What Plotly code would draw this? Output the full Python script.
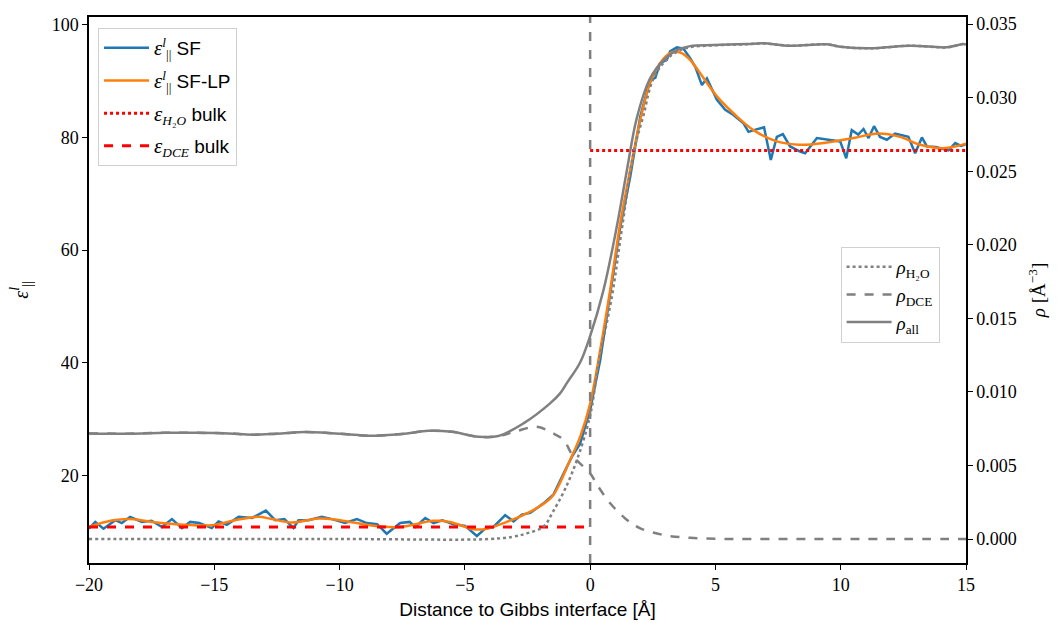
import plotly.graph_objects as go

# ---------------- data ----------------
x_sf = [-20.0, -19.75, -19.42, -18.95, -18.69, -18.36, -17.89, -17.5, -17.09, -16.69, -16.29, -15.96,
        -15.6, -15.1, -14.83, -14.5, -14.03, -13.5, -12.94, -12.57, -12.2, -11.84, -11.64, -11.24,
        -10.71, -10.3, -9.78, -9.31, -8.91, -8.5, -8.12, -7.58, -7.2, -6.98, -6.58, -6.25, -5.9,
        -5.45, -4.99, -4.52, -4.19, -3.86, -3.39, -3.06, -2.73, -2.39, -1.86, -1.46, -1.06, -0.7,
        -0.4, 0.0, 0.4, 0.8, 1.2, 1.6, 2.0, 2.39, 2.6, 2.79, 3.06, 3.19, 3.46, 3.72, 3.99, 4.2,
        4.46, 4.66, 5.06, 5.39, 5.72, 6.12, 6.32, 6.6, 6.94, 7.21, 7.45, 7.69, 7.98, 8.38, 8.58,
        9.05, 9.5, 9.98, 10.22, 10.44, 10.7, 10.91, 11.11, 11.33, 11.57, 11.84, 12.17, 12.45,
        12.7, 12.97, 13.24, 13.44, 13.8, 14.05, 14.3, 14.57, 14.8, 15.0]
eps_sf = [10.5, 11.7, 10.5, 12.0, 11.5, 12.6, 11.7, 11.9, 10.8, 12.2, 10.6, 11.7,
          11.5, 10.6, 11.8, 11.2, 12.6, 12.4, 13.7, 12.0, 12.2, 10.6, 12.0, 12.0,
          12.6, 12.2, 11.5, 12.2, 11.5, 11.3, 9.6, 11.5, 11.7, 10.8, 12.4, 11.5, 12.0,
          11.3, 11.0, 9.2, 10.5, 10.8, 12.9, 11.8, 13.0, 13.3, 15.0, 16.6, 20.3, 23.5,
          25.6, 31.6, 40.4, 52.5, 64.0, 73.0, 83.7, 90.2, 90.6, 93.2, 93.8, 95.3, 96.0, 95.8, 94.1, 92.5,
          89.3, 90.5, 86.7, 84.9, 84.0, 82.5, 81.0, 81.4, 81.8, 76.0, 80.1, 80.6, 78.4, 77.5, 77.2,
          79.9, 79.6, 79.3, 76.3, 81.3, 80.5, 81.5, 79.9, 82.0, 80.1, 79.6, 80.7, 80.4,
          80.1, 77.2, 80.0, 78.4, 78.3, 78.0, 77.7, 79.0, 78.5, 78.8]

x_lp = [-20.0, -19.35, -18.42, -17.49, -16.16, -15.1, -14.17, -13.24, -12.7, -11.9, -10.84, -9.98,
        -8.65, -7.58, -6.25, -5.59, -4.66, -4.12, -3.33, -2.53, -2.0, -1.5, -0.8, -0.4, 0.0, 0.4,
        0.8, 1.2, 1.6, 2.0, 2.39, 2.79, 3.19, 3.59, 3.99, 4.39, 5.06, 5.72, 6.52, 7.45, 8.38,
        9.45, 10.51, 11.5, 12.37, 13.17, 14.1, 15.0]
eps_lp = [10.8, 11.7, 12.2, 11.7, 11.2, 11.1, 12.0, 12.6, 12.2, 11.6, 12.3, 12.0,
          11.0, 10.8, 11.9, 11.7, 10.4, 10.5, 11.7, 13.2, 14.5, 16.3, 22.7, 26.8, 32.7, 42.2,
          52.9, 64.7, 74.2, 83.1, 89.6, 93.2, 95.0, 95.1, 93.8, 91.4, 87.3, 84.3, 81.3, 79.3, 78.7,
          79.1, 79.9, 80.7, 80.1, 78.7, 78.1, 78.9]

x_dce_bulk = [-20.0, 0.0]
eps_dce_bulk = [10.8, 10.8]
x_h2o_bulk = [0.0, 15.0]
eps_h2o_bulk = [77.7, 77.7]
gibbs_x = 0.0

x_all = [-20.0, -18.42, -16.96, -15.76, -14.43, -13.5, -12.5, -11.37, -10.57, -9.7, -8.85, -7.51,
         -6.45, -5.52, -4.46, -3.66, -2.66, -1.6, -1.2, -0.93, -0.4, 0.0, 0.53, 1.06, 1.46, 1.86,
         2.39, 2.93, 3.46, 3.99, 4.92, 6.25, 6.92, 7.98, 9.45, 9.98, 11.17, 12.77, 14.23, 14.9, 15.0]
rho_all = [0.00718, 0.00716, 0.00722, 0.00722, 0.00718, 0.00709, 0.00716, 0.00727, 0.00722, 0.00712,
           0.00702, 0.00714, 0.00736, 0.00729, 0.00695, 0.00700, 0.00786, 0.00922, 0.00990, 0.01060,
           0.01200, 0.01380, 0.01690, 0.02120, 0.02500, 0.02860, 0.03130, 0.03255, 0.03323, 0.03350,
           0.03357, 0.03364, 0.03369, 0.03353, 0.03362, 0.03346, 0.03335, 0.03353, 0.03342, 0.03364, 0.03360]

x_dce = [-20.0, -18.42, -16.96, -15.76, -14.43, -13.5, -12.5, -11.37, -10.57, -9.7, -8.85, -7.51,
         -6.45, -5.52, -4.46, -3.66, -3.0, -2.13, -1.5, -1.06, -0.67, 0.0, 0.33, 0.8, 1.4, 2.0,
         3.0, 4.0, 5.0, 6.0, 8.0, 10.0, 12.0, 15.0]
rho_dce = [0.00718, 0.00716, 0.00722, 0.00722, 0.00718, 0.00709, 0.00716, 0.00727, 0.00722, 0.00712,
           0.00702, 0.00714, 0.00736, 0.00729, 0.00695, 0.00700, 0.00730, 0.00763, 0.00720, 0.00673,
           0.00560, 0.00446, 0.00355, 0.00243, 0.00140, 0.00073, 0.00025, 0.00008, 0.00002, 0.0,
           0.0, 0.0, 0.0, 0.0]

x_h2o = [-20.0, -10.0, -4.0, -3.06, -2.5, -1.86, -1.5, -1.0, -0.5, 0.0, 0.33, 0.87, 1.26, 1.75,
         2.13, 2.5, 3.0, 3.5, 4.0, 4.92, 6.25, 6.92, 7.98, 9.45, 9.98, 11.17, 12.77, 14.23, 14.9, 15.0]
rho_h2o = [0.0, 0.0, 0.0, 0.00016, 0.00040, 0.00084, 0.00180, 0.00340, 0.00550, 0.00840, 0.01190,
           0.01650, 0.02100, 0.02640, 0.02880, 0.03120, 0.03250, 0.03315, 0.03343, 0.03355, 0.03363,
           0.03368, 0.03353, 0.03362, 0.03346, 0.03335, 0.03353, 0.03342, 0.03364, 0.03360]

x_ticks = [-20, -15, -10, -5, 0, 5, 10, 15]
eps_ticks = [20, 40, 60, 80, 100]
rho_ticks = [0.000, 0.005, 0.010, 0.015, 0.020, 0.025, 0.030, 0.035]

# ---------------- figure ----------------
SERIF = "Liberation Serif"
SANS = "Liberation Sans"
BLUE = "#1f77b4"
ORANGE = "#ff7f0e"
GRAY = "#808080"


def eps_lbl(s):
    return (f'<span style="font-family:{SERIF};font-size:21px"><i>ε</i></span>'
            f'<span style="font-family:{SERIF}"><sup><i>l</i></sup><sub>||</sub></span> {s}')


fig = go.Figure()
fig.add_trace(go.Scatter(x=x_sf, y=eps_sf, mode="lines", line=dict(color=BLUE, width=2.5),
                         name=eps_lbl("SF"), legend="legend", legendgroup="a"))
fig.add_trace(go.Scatter(x=x_lp, y=eps_lp, mode="lines", line=dict(color=ORANGE, width=2.5, shape="spline"),
                         name=eps_lbl("SF-LP"), legend="legend", legendgroup="b"))
fig.add_trace(go.Scatter(x=x_h2o_bulk, y=eps_h2o_bulk, mode="lines", line=dict(color="red", width=3, dash="dot"),
                         name=f'<span style="font-family:{SERIF}"><span style="font-size:21px"><i>ε</i></span><sub><i>H</i>₂<i>O</i></sub></span> bulk',
                         legend="legend", legendgroup="c"))
fig.add_trace(go.Scatter(x=x_dce_bulk, y=eps_dce_bulk, mode="lines", line=dict(color="red", width=3, dash="dash"),
                         name=f'<span style="font-family:{SERIF}"><span style="font-size:21px"><i>ε</i></span><sub><i>DCE</i></sub></span> bulk',
                         legend="legend", legendgroup="d"))

fig.add_vline(x=gibbs_x, line=dict(color=GRAY, width=2.5, dash="dash"))

fig.add_trace(go.Scatter(x=x_h2o, y=rho_h2o, yaxis="y2", mode="lines",
                         line=dict(color=GRAY, width=2.5, dash="dot", shape="spline"),
                         name="<i>ρ</i><sub>H₂O</sub>", legend="legend2"))
fig.add_trace(go.Scatter(x=x_dce, y=rho_dce, yaxis="y2", mode="lines",
                         line=dict(color=GRAY, width=2.5, dash="dash", shape="spline"),
                         name="<i>ρ</i><sub>DCE</sub>", legend="legend2"))
fig.add_trace(go.Scatter(x=x_all, y=rho_all, yaxis="y2", mode="lines",
                         line=dict(color=GRAY, width=2.5, shape="spline"),
                         name="<i>ρ</i><sub>all</sub>", legend="legend2"))

axis_common = dict(showline=True, linecolor="black", linewidth=1.5, ticks="outside", ticklen=5,
                   tickwidth=1.3, tickcolor="black", showgrid=False, zeroline=False, automargin=False,
                   tickfont=dict(family=SERIF, size=18, color="black"))

fig.update_layout(
    width=1058, height=623,
    margin=dict(l=89, r=92, t=17, b=60),
    paper_bgcolor="white", plot_bgcolor="white",
    xaxis=dict(range=[-20, 15], tickvals=x_ticks, mirror=True,
               title=dict(text="Distance to Gibbs interface [Å]", font=dict(family=SANS, size=19, color="black"),
                          standoff=8),
               **axis_common),
    yaxis=dict(range=[4.4, 101.4], tickvals=eps_ticks,
               title=dict(text=f"<i>ε</i><sup><i>l</i></sup><sub>||</sub>", font=dict(family=SERIF, size=20, color="black"),
                          standoff=18),
               **axis_common),
    yaxis2=dict(range=[-0.00163, 0.03548], tickvals=rho_ticks, tickformat=".3f", overlaying="y", side="right",
                title=dict(text="<i>ρ</i> [Å<sup>−3</sup>]", font=dict(family=SERIF, size=19, color="black"),
                           standoff=16),
                **axis_common),
    legend=dict(x=0.0103, y=0.98, xanchor="left", yanchor="top", bgcolor="rgba(255,255,255,0.85)",
                bordercolor="#d0d0d0", borderwidth=1, font=dict(family=SANS, size=19, color="black"),
                tracegroupgap=5, itemwidth=45),
    legend2=dict(x=0.857, y=0.579, xanchor="left", yanchor="top", bgcolor="rgba(255,255,255,0.85)",
                 bordercolor="#d0d0d0", borderwidth=1, font=dict(family=SERIF, size=19, color="black"),
                 itemwidth=45, tracegroupgap=4),
    showlegend=True,
)

fig.write_html("out.html")
